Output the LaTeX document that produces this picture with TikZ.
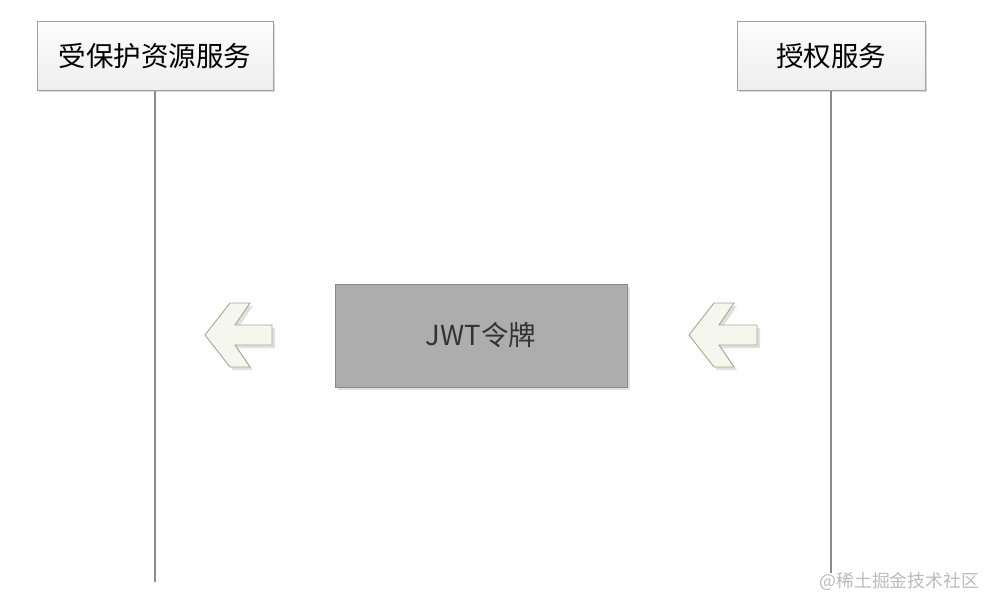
\documentclass[tikz,border=0pt]{standalone}
\usepackage{fontspec}
\newfontfamily\cjk{Noto Sans CJK SC}
\usetikzlibrary{shadows}
\definecolor{boxborder}{HTML}{A0A0A0}
\definecolor{boxtop}{HTML}{FCFCFC}
\definecolor{boxbot}{HTML}{EEEEEE}
\definecolor{lifeline}{HTML}{8C8C8C}
\definecolor{tokenfill}{HTML}{ADADAD}
\definecolor{tokenborder}{HTML}{8A8A8A}
\definecolor{arrowfill}{HTML}{F5F7EF}
\definecolor{arrowborder}{HTML}{A6A88E}
\definecolor{wmark}{HTML}{BBBBBB}
\tikzset{
  actorbox/.style={draw=boxborder, line width=1pt, top color=boxtop, bottom color=boxbot,
    minimum height=68pt, inner sep=0pt, font=\cjk\fontsize{27.5}{32}\selectfont, text=black,
    drop shadow={shadow xshift=2pt, shadow yshift=-2pt, opacity=0.15, fill=black}},
  tokenbox/.style={draw=tokenborder, line width=1pt, fill=tokenfill, minimum width=292pt,
    minimum height=103pt, inner sep=0pt, font=\cjk\fontsize{27.5}{32}\selectfont, text=black!80,
    drop shadow={shadow xshift=3pt, shadow yshift=-3pt, opacity=0.12, fill=black}},
  lifeline/.style={draw=lifeline, line width=1.5pt},
  bigarrow/.style={draw=arrowborder, line width=0.9pt, fill=arrowfill, line join=miter,
    drop shadow={shadow xshift=3pt, shadow yshift=-3pt, opacity=0.12, fill=black}},
}
\begin{document}
\begin{tikzpicture}[x=1pt, y=-1pt]
\useasboundingbox (0,0) rectangle (998,610);
\fill[white] (0,0) rectangle (998,610);
% actors
\node[actorbox, minimum width=236pt] (res) at (155,56) {受保护资源服务};
\node[actorbox, minimum width=188pt] (auth) at (831,56) {授权服务};
% lifeline ends
\coordinate (resend) at (155,582);
\coordinate (authend) at (831,573);
\draw[lifeline] (res.south) -- (resend);
\draw[lifeline] (auth.south) -- (authend);
% token
\node[tokenbox] (jwt) at (481,335.5) {JWT令牌};
% arrows
\draw[bigarrow] (205,335) -- (230,303) -- (250,303) -- (235,325) -- (272,325)
  -- (272,345) -- (235,345) -- (250,367) -- (230,367) -- cycle;
\draw[bigarrow] (689,335) -- (714,303) -- (734,303) -- (719,325) -- (757,325)
  -- (757,345) -- (719,345) -- (734,367) -- (714,367) -- cycle;
% watermark
\node[font=\cjk\fontsize{17.8}{20}\selectfont, text=wmark, anchor=east, inner sep=0pt] (wm) at (979,581) {@稀土掘金技术社区};
\end{tikzpicture}
\end{document}
